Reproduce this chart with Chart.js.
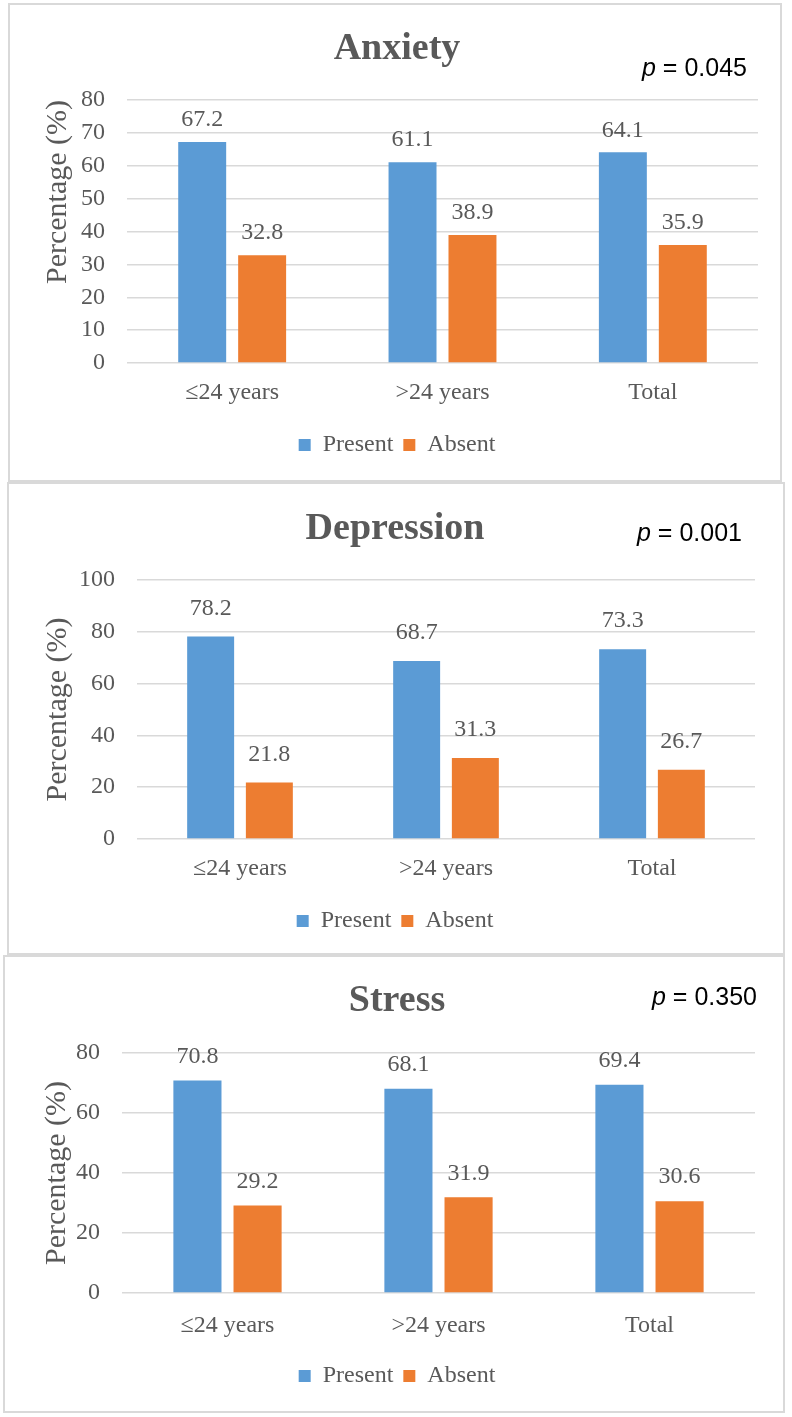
<!DOCTYPE html>
<html>
<head>
<meta charset="utf-8">
<script src="https://cdn.jsdelivr.net/npm/chart.js"></script>
<style>
    body { margin: 0; background: #fff; width: 792px; height: 1417px; position: relative; overflow: hidden; }
    .panel { position: absolute; border: 2px solid #d9d9d9; box-sizing: border-box; background: #fff; }
    .panel canvas { position: absolute; left: 0; top: 0; }
    .pval { position: absolute; font: 25px "Liberation Sans", Arial, sans-serif; line-height: 1; color: #000; white-space: nowrap; }
</style>
</head>
<body>
<div class="panel" id="panel0"><canvas id="chart0"></canvas></div>
<div class="panel" id="panel1"><canvas id="chart1"></canvas></div>
<div class="panel" id="panel2"><canvas id="chart2"></canvas></div>
<span class="pval" id="pval0"></span>
<span class="pval" id="pval1"></span>
<span class="pval" id="pval2"></span>
<script>
// Data
const categories = ['≤24 years', '>24 years', 'Total'];
const seriesNames = ['Present', 'Absent'];

const chartTitles = ['Anxiety', 'Depression', 'Stress'];
const pValues = ['0.045', '0.001', '0.350'];

const anxietyPresent = [67.2, 61.1, 64.1];
const anxietyAbsent = [32.8, 38.9, 35.9];
const depressionPresent = [78.2, 68.7, 73.3];
const depressionAbsent = [21.8, 31.3, 26.7];
const stressPresent = [70.8, 68.1, 69.4];
const stressAbsent = [29.2, 31.9, 30.6];

const yMaxValues = [80, 100, 80];
const yStepValues = [10, 20, 20];

const presentSeries = [anxietyPresent, depressionPresent, stressPresent];
const absentSeries = [anxietyAbsent, depressionAbsent, stressAbsent];

// Layout of each panel on the page (box = outer border box)
const panels = [
    { box: [8, 3, 774, 479], padLeft: 26, padRight: 22, yWidth: 91, chartTop: 95, titlePadTop: 21, padBottom: 13, xHeight: 60, tickPadX: 15, yTitlePad: 4, yTitleAlign: 'end', labelOffset: 22, pPos: [642, 55] },
    { box: [7, 482, 778, 473], padLeft: 26, padRight: 28, yWidth: 102, chartTop: 96, titlePadTop: 22, padBottom: 10, xHeight: 60, tickPadX: 15, yTitlePad: 5, yTitleAlign: 'center', labelOffset: 28, pPos: [637, 520] },
    { box: [3, 955, 782, 458], padLeft: 34, padRight: 28, yWidth: 83, chartTop: 96, titlePadTop: 21, padBottom: 13, xHeight: 61, tickPadX: 18, yTitlePad: 0, yTitleAlign: 'center', labelOffset: 24, pPos: [652, 984] }
];

const blue = '#5b9bd5';
const orange = '#ed7d31';
const textGray = '#595959';
const gridGray = '#d9d9d9';
const serif = '"Liberation Serif", "Times New Roman", serif';

// draws the value above each bar
const valueLabels = {
    id: 'valueLabels',
    afterDatasetsDraw(chart, args, opts) {
        const ctx = chart.ctx;
        ctx.save();
        ctx.font = '24px ' + serif;
        ctx.fillStyle = textGray;
        ctx.textAlign = 'center';
        ctx.textBaseline = 'middle';
        chart.data.datasets.forEach((ds, i) => {
            chart.getDatasetMeta(i).data.forEach((bar, j) => {
                ctx.fillText(ds.data[j].toFixed(1), bar.x, bar.y - opts.offset);
            });
        });
        ctx.restore();
    }
};

function makeChart(idx) {
    const p = panels[idx];
    const [left, top, w, h] = p.box;
    const panelEl = document.getElementById('panel' + idx);
    panelEl.style.left = left + 'px';
    panelEl.style.top = top + 'px';
    panelEl.style.width = w + 'px';
    panelEl.style.height = h + 'px';

    const canvas = document.getElementById('chart' + idx);
    canvas.width = w - 4;
    canvas.height = h - 4;
    canvas.style.width = (w - 4) + 'px';
    canvas.style.height = (h - 4) + 'px';

    const pEl = document.getElementById('pval' + idx);
    pEl.innerHTML = '<i>p</i> = ' + pValues[idx];
    pEl.style.left = p.pPos[0] + 'px';
    pEl.style.top = p.pPos[1] + 'px';

    const titleSize = 38;
    const titleLine = titleSize * 1.2;

    return new Chart(canvas, {
        type: 'bar',
        data: {
            labels: categories,
            datasets: [{
                label: seriesNames[0],
                data: presentSeries[idx],
                backgroundColor: blue
            }, {
                label: seriesNames[1],
                data: absentSeries[idx],
                backgroundColor: orange
            }]
        },
        options: {
            responsive: false,
            animation: false,
            devicePixelRatio: 1,
            categoryPercentage: 0.57,
            barPercentage: 0.8,
            layout: {
                padding: { left: p.padLeft, right: p.padRight, top: 0, bottom: p.padBottom }
            },
            scales: {
                x: {
                    grid: { display: false, drawTicks: false },
                    border: { display: false },
                    ticks: {
                        color: textGray,
                        font: { family: serif, size: 24 },
                        padding: p.tickPadX
                    },
                    afterFit: scale => { scale.height = p.xHeight; }
                },
                y: {
                    min: 0,
                    max: yMaxValues[idx],
                    grid: { color: gridGray, lineWidth: 1.5, drawTicks: false },
                    border: { display: false },
                    ticks: {
                        stepSize: yStepValues[idx],
                        color: textGray,
                        font: { family: serif, size: 24 },
                        padding: 22
                    },
                    title: {
                        display: true,
                        text: 'Percentage (%)',
                        align: p.yTitleAlign,
                        color: textGray,
                        font: { family: serif, size: 30 },
                        padding: { top: p.yTitlePad, bottom: 0 }
                    },
                    afterFit: scale => { scale.width = p.yWidth; }
                }
            },
            plugins: {
                title: {
                    display: true,
                    text: chartTitles[idx],
                    color: textGray,
                    font: { family: serif, size: titleSize, weight: 'bold' },
                    padding: { top: p.titlePadTop, bottom: p.chartTop - p.titlePadTop - titleLine }
                },
                legend: {
                    position: 'bottom',
                    labels: {
                        boxWidth: 12,
                        boxHeight: 12,
                        padding: 10,
                        color: textGray,
                        font: { family: serif, size: 24 }
                    }
                },
                tooltip: { enabled: false },
                valueLabels: { offset: p.labelOffset }
            }
        },
        plugins: [valueLabels]
    });
}

document.addEventListener('DOMContentLoaded', function() {
    [0, 1, 2].forEach(makeChart);
});
</script>
</body>
</html>
